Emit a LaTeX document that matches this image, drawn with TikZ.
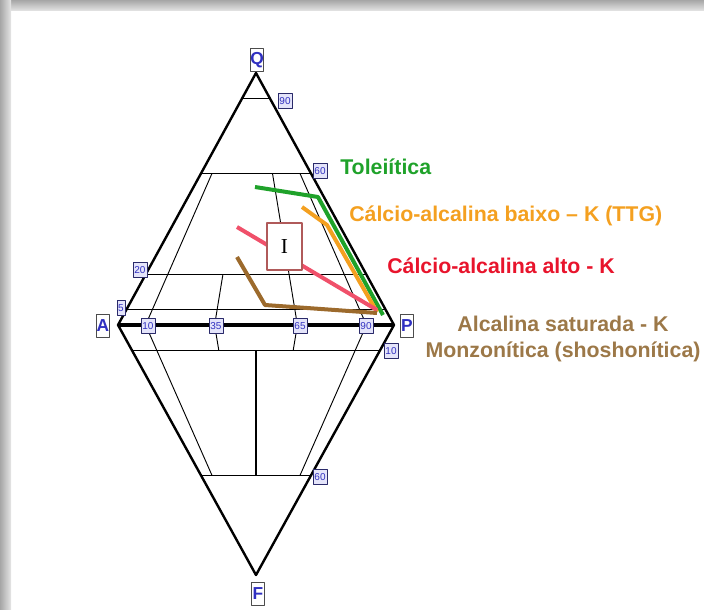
\documentclass[tikz,border=0pt]{standalone}
\usepackage{fontspec}
\newfontfamily\arial{Liberation Sans}
\newfontfamily\serifI{Liberation Serif}
\usetikzlibrary{calc}

\definecolor{rotulo}{HTML}{3030C0}
\definecolor{lavanda}{HTML}{E4E4FA}
\definecolor{marinho}{HTML}{2A2A6A}
\definecolor{verde}{HTML}{1FA22A}
\definecolor{laranja}{HTML}{F4A020}
\definecolor{vermelho}{HTML}{E8142C}
\definecolor{rosa}{HTML}{F0506A}
\definecolor{marrom}{HTML}{9C6A2C}
\definecolor{marromtxt}{HTML}{9C7848}
\definecolor{caixa}{HTML}{B05A5A}

\begin{document}
\begin{tikzpicture}[x=0.75pt, y=-0.75pt, line join=round,
  vert/.style={draw=gray!60!black, fill=white, text=rotulo, inner sep=0pt,
    font=\arial\bfseries\fontsize{13}{13}\selectfont, minimum width=10pt, minimum height=17pt},
  num/.style={draw=marinho, fill=lavanda, text=rotulo, inner sep=0pt,
    font=\arial\fontsize{7.5}{7.5}\selectfont, minimum width=10.5pt, minimum height=11pt},
  fina/.style={line width=0.7pt},
  serie/.style={line width=3pt},
  legenda/.style={font=\arial\bfseries\fontsize{16}{20}\selectfont, inner sep=0pt}]

  \useasboundingbox (0,0) rectangle (704,610);
  % sombra do slide
  \shade[top color=gray!70, bottom color=gray!20] (0,0) rectangle (704,11);
  \shade[left color=gray!70, right color=gray!20] (0,0) rectangle (11,610);

  \coordinate (Q) at (256,73);
  \coordinate (A) at (118,325);
  \coordinate (P) at (394,325);
  \coordinate (F) at (256,575);

  \coordinate (a10) at ($(A)!0.10!(P)$);
  \coordinate (a35) at ($(A)!0.35!(P)$);
  \coordinate (a50) at ($(A)!0.50!(P)$);
  \coordinate (a65) at ($(A)!0.65!(P)$);
  \coordinate (a90) at ($(A)!0.90!(P)$);

  % linhas Q = 90, 60, 20, 5
  \draw[fina] ($(A)!0.9!(Q)$) -- ($(P)!0.9!(Q)$);
  \draw[fina] ($(A)!0.6!(Q)$) -- ($(P)!0.6!(Q)$);
  \draw[fina] ($(A)!0.2!(Q)$) -- ($(P)!0.2!(Q)$);
  \draw[fina] ($(A)!0.06!(Q)$) -- ($(P)!0.06!(Q)$);
  % linhas F = 10, 60
  \draw[fina] ($(A)!0.1!(F)$) -- ($(P)!0.1!(F)$);
  \draw[fina] ($(A)!0.6!(F)$) -- ($(P)!0.6!(F)$);

  % divisoes radiais
  \draw[fina] (a10) -- ($(a10)!0.6!(Q)$);
  \draw[fina] (a35) -- ($(a35)!0.2!(Q)$);
  \draw[fina] (a65) -- ($(a65)!0.6!(Q)$);
  \draw[fina] (a90) -- ($(a90)!0.6!(Q)$);
  \draw[fina] (a10) -- ($(a10)!0.6!(F)$);
  \draw[fina] (a35) -- ($(a35)!0.1!(F)$);
  \draw[fina] (a65) -- ($(a65)!0.1!(F)$);
  \draw[fina] (a90) -- ($(a90)!0.6!(F)$);
  \draw[line width=1.3pt] ($(a50)!0.1!(F)$) -- ($(a50)!0.6!(F)$);

  % contorno
  \draw[line width=1.8pt] (Q) -- (P) -- (F) -- (A) -- cycle;
  \draw[line width=2.6pt] (A) -- (P);

  % series
  \draw[serie, verde] (255,187) -- (318,197) -- (383,315);
  \draw[serie, laranja] (302,207) -- (327,225) -- (377,312);
  \draw[serie, rosa] (237,227) -- (377,310);
  \draw[serie, marrom] (237,257) -- (265,305) -- (377,313);

  \node[draw=caixa, line width=1.6pt, fill=white, minimum width=26pt, minimum height=35pt,
    font=\serifI\fontsize{16}{16}\selectfont] (campoI) at (284.5,246.5) {I};

  % vertices
  \node[vert] (vq) at (257,60) {Q};
  \node[vert] (va) at (103,326) {A};
  \node[vert] (vp) at (407,326) {P};
  \node[vert] (vf) at (258,594) {F};

  % valores
  \node[num] (n90) at (285,101) {90};
  \node[num] (n60) at (320,171) {60};
  \node[num] (n20) at (140,270) {20};
  \node[num, minimum width=6pt] (n5) at (121,308) {5};
  \node[num] (p10) at (148,326) {10};
  \node[num] (p35) at (216,326) {35};
  \node[num] (p65) at (300,326) {65};
  \node[num] (p90) at (366,326) {90};
  \node[num] (f10) at (391,351) {10};
  \node[num] (f60) at (320,477) {60};

  % legendas
  \node[legenda, text=verde, anchor=west] (tol) at (340,167) {Toleiítica};
  \node[legenda, text=laranja, anchor=west] (ttg) at (349,216) {Cálcio-alcalina baixo – K (TTG)};
  \node[legenda, text=vermelho, anchor=west] (alto) at (387,266) {Cálcio-alcalina alto - K};
  \node[legenda, text=marromtxt, align=center] (alc) at (563,339)
    {Alcalina saturada - K\\Monzonítica (shoshonítica)};
\end{tikzpicture}
\end{document}
